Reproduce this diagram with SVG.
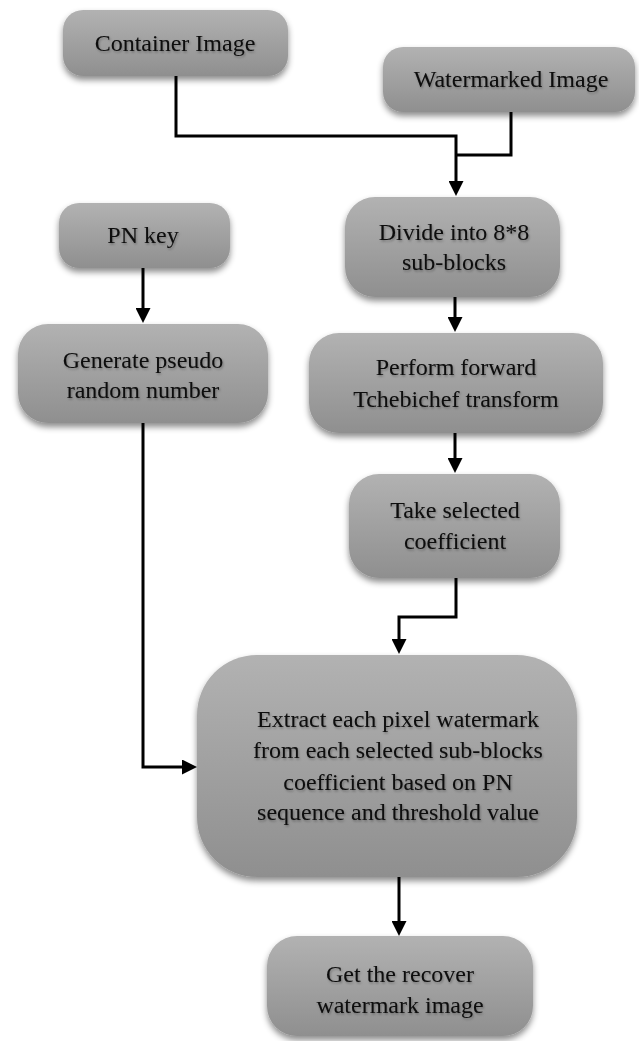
<svg xmlns="http://www.w3.org/2000/svg" width="639" height="1041" viewBox="0 0 639 1041">
<defs>
<linearGradient id="g" x1="0" y1="0" x2="0" y2="1">
<stop offset="0" stop-color="#b2b2b2"/>
<stop offset="1" stop-color="#8f8f8f"/>
</linearGradient>
<filter id="sh" x="-10%" y="-10%" width="120%" height="130%">
<feDropShadow dx="0" dy="4" stdDeviation="3" flood-color="#000" flood-opacity="0.45"/>
</filter>
<filter id="ts" x="-5%" y="-20%" width="110%" height="140%">
<feDropShadow dx="1" dy="1.5" stdDeviation="1" flood-color="#000" flood-opacity="0.3"/>
</filter>
<marker id="ah" viewBox="0 0 15 15" markerUnits="userSpaceOnUse" markerWidth="15" markerHeight="15" refX="5" refY="7.5" orient="auto">
<path d="M0,0 L15,7.5 L0,15 z" fill="#000"/>
</marker>
</defs>
<style>
.box{fill:url(#g);filter:url(#sh);}
.t{font-family:"Liberation Serif","Times New Roman",serif;font-size:24px;fill:#0a0a0a;text-anchor:middle;filter:url(#ts);}
.c{fill:none;stroke:#000;stroke-width:3;}
</style>
<g id="connectors">
<path class="c" d="M176 76 V136 H456 V186" marker-end="url(#ah)"/>
<path class="c" d="M511 112 V155 H456"/>
<path class="c" d="M143 268 V313" marker-end="url(#ah)"/>
<path class="c" d="M455 297 V322" marker-end="url(#ah)"/>
<path class="c" d="M455 433 V463" marker-end="url(#ah)"/>
<path class="c" d="M456 578 V617 H399 V644" marker-end="url(#ah)"/>
<path class="c" d="M143 423 V767 H187" marker-end="url(#ah)"/>
<path class="c" d="M399 877 V926" marker-end="url(#ah)"/>
</g>
<g id="container">
<rect class="box" x="63" y="10" width="225" height="66" rx="20"/>
<text class="t" x="175" y="51">Container Image</text>
</g>
<g id="watermarked">
<rect class="box" x="383" y="47" width="252" height="65" rx="20"/>
<text class="t" x="511" y="87">Watermarked Image</text>
</g>
<g id="pnkey">
<rect class="box" x="59" y="203" width="171" height="65" rx="20"/>
<text class="t" x="143" y="243">PN key</text>
</g>
<g id="divide">
<rect class="box" x="345" y="197" width="215" height="100" rx="30"/>
<text class="t" x="454" y="240">Divide into 8*8</text>
<text class="t" x="454" y="270">sub-blocks</text>
</g>
<g id="generate">
<rect class="box" x="18" y="324" width="250" height="99" rx="30"/>
<text class="t" x="143" y="368">Generate pseudo</text>
<text class="t" x="143" y="398">random number</text>
</g>
<g id="perform">
<rect class="box" x="309" y="333" width="294" height="100" rx="30"/>
<text class="t" x="456" y="375">Perform forward</text>
<text class="t" x="456" y="407">Tchebichef transform</text>
</g>
<g id="take">
<rect class="box" x="349" y="474" width="211" height="104" rx="30"/>
<text class="t" x="455" y="518">Take selected</text>
<text class="t" x="455" y="549">coefficient</text>
</g>
<g id="extract">
<rect class="box" x="197" y="655" width="380" height="222" rx="60"/>
<text class="t" x="398" y="727">Extract each pixel watermark</text>
<text class="t" x="398" y="758">from each selected sub-blocks</text>
<text class="t" x="398" y="790">coefficient based on PN</text>
<text class="t" x="398" y="820">sequence and threshold value</text>
</g>
<g id="get">
<rect class="box" x="267" y="936" width="266" height="100" rx="30"/>
<text class="t" x="400" y="982">Get the recover</text>
<text class="t" x="400" y="1013">watermark image</text>
</g>
</svg>
